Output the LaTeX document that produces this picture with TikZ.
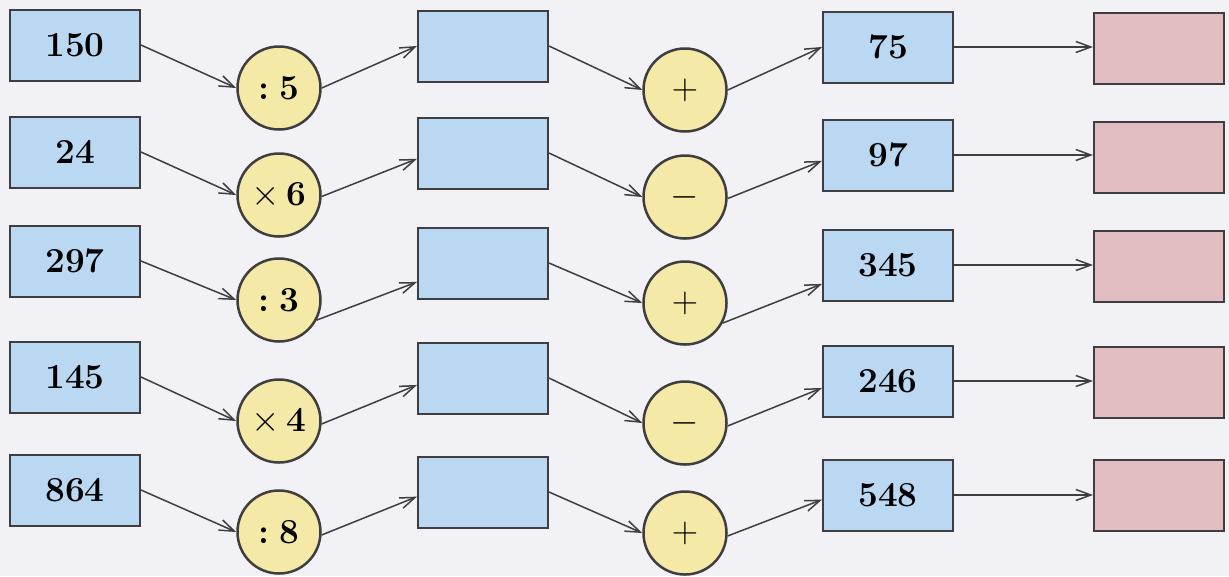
\documentclass[tikz,border=0pt]{standalone}
\usepackage{tikz}
\usetikzlibrary{arrows.meta, positioning}
\definecolor{boxblue}{RGB}{186,216,241}
\definecolor{opyellow}{RGB}{244,233,166}
\definecolor{ansred}{RGB}{226,190,194}
\definecolor{inkgray}{RGB}{62,62,64}
\definecolor{paper}{RGB}{242,242,246}

\begin{document}
\begin{tikzpicture}[
    x=0.2mm, y=-0.2mm,
    numbox/.style={rectangle, draw=inkgray, fill=boxblue, line width=0.4mm, minimum width=26mm, minimum height=14.2mm, inner sep=0pt, font=\fontsize{20}{24}\selectfont\bfseries},
    ansbox/.style={numbox, fill=ansred},
    opcirc/.style={circle, draw=inkgray, fill=opyellow, line width=0.5mm, minimum size=16.6mm, inner sep=0pt, font=\fontsize{20}{24}\selectfont},
    arrow/.style={-{Straight Barb[length=3mm,width=2.2mm]}, draw=inkgray, line width=0.3mm}
]

% paper background, fixes the margins
\fill[paper] (0,0) rectangle (1229,576);
\useasboundingbox (0,0) rectangle (1229,576);

% ===== STEP ONE =====
% Given numbers
\foreach \i/\y/\num in {1/45/150, 2/152/24, 3/261/297, 4/377/145, 5/490/864} {
    \node[numbox] (in\i) at (75,\y) {\num};
}

% First operations
\foreach \i/\y/\op in {1/88/{\bfseries :\hspace{0.3em}5}, 2/195/{$\times$\hspace{0.2em}\textbf{6}}, 3/300/{\bfseries :\hspace{0.3em}3}, 4/421/{$\times$\hspace{0.2em}\textbf{4}}, 5/532/{\bfseries :\hspace{0.3em}8}} {
    \node[opcirc] (opa\i) at (279,\y) {\op};
}

% Empty boxes for the results
\foreach \i/\y in {1/46, 2/153, 3/263, 4/378, 5/492} {
    \node[numbox] (mid\i) at (483,\y) {};
}

% ===== STEP TWO =====
% Second operations
\foreach \i/\y/\op in {1/90/$+$, 2/197/$-$, 3/303/$+$, 4/423/$-$, 5/533/$+$} {
    \node[opcirc] (opb\i) at (685,\y) {\op};
}

% Second numbers
\foreach \i/\y/\num in {1/47/75, 2/155/97, 3/265/345, 4/381/246, 5/495/548} {
    \node[numbox] (res\i) at (888,\y) {\num};
}

% Answer boxes
\foreach \i/\y in {1/48, 2/157, 3/266, 4/382, 5/495} {
    \node[ansbox] (ans\i) at (1159,\y) {};
}

% Arrows along each row
\foreach \i/\outang/\inang in {1/0/180, 2/-2/185, 3/-28/196, 4/-4/186, 5/-4/184} {
    \draw[arrow] (in\i.east) -- (opa\i.west);
    \draw[arrow] (opa\i.\outang) -- (mid\i.\inang);
    \draw[arrow] (mid\i.east) -- (opb\i.west);
    \draw[arrow] (opb\i.\outang) -- (res\i.\inang);
    \draw[arrow] (res\i.east) -- (res\i.east -| ans\i.west);
}

\end{tikzpicture}
\end{document}
